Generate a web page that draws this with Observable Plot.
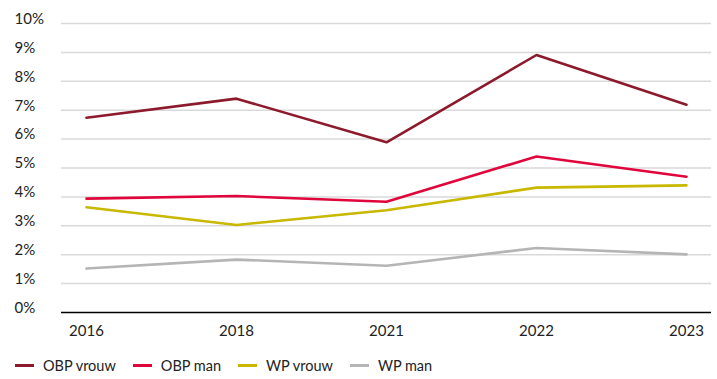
<!DOCTYPE html>
<html>
<head>
<meta charset="utf-8">
<script src="https://cdn.jsdelivr.net/npm/d3@7"></script>
<script src="https://cdn.jsdelivr.net/npm/@observablehq/plot@0.6"></script>
<style>
  html, body { margin: 0; padding: 0; background: #fff; }
  body { width: 717px; height: 379px; overflow: hidden; font-family: Lato, sans-serif; color: #222; }
  #legend { display: flex; align-items: center; margin-left: 15px; margin-top: 11px; font-size: 14.5px; }
  .item { display: flex; align-items: center; margin-right: 17px; }
  .sw { width: 19px; height: 3px; margin-right: 9px; }
</style>
</head>
<body>
<div id="chart"></div>
<div id="legend"></div>
<script>
const years = ["2016", "2018", "2021", "2022", "2023"];
const seriesNames = ["OBP vrouw", "OBP man", "WP vrouw", "WP man"];
const obpVrouw = [6.74, 7.40, 5.89, 8.91, 7.19];
const obpMan   = [3.94, 4.03, 3.83, 5.40, 4.70];
const wpVrouw  = [3.64, 3.03, 3.54, 4.32, 4.40];
const wpMan    = [1.52, 1.83, 1.62, 2.23, 2.01];
const colors = ["#8c1a2c", "#e0063b", "#c8b800", "#b5b5b5"];
const yTicks = [0, 1, 2, 3, 4, 5, 6, 7, 8, 9, 10];

const seriesValues = [obpVrouw, obpMan, wpVrouw, wpMan];
const data = [];
seriesNames.forEach((s, i) => years.forEach((y, j) => data.push({series: s, year: y, value: seriesValues[i][j]})));

const plot = Plot.plot({
  width: 717,
  height: 346,
  marginTop: 23,
  marginBottom: 34,
  marginLeft: 61,
  marginRight: 6,
  style: {fontFamily: "Lato, sans-serif", fontSize: "15px", color: "#222"},
  x: {type: "point", domain: years, padding: 0.163, label: null},
  y: {domain: [0, 10], label: null},
  color: {domain: seriesNames, range: colors},
  marks: [
    Plot.gridY(yTicks.filter(d => d > 0), {stroke: "#d9d9d9", strokeOpacity: 1, strokeWidth: 1.5}),
    Plot.ruleY([0], {stroke: "#000", strokeWidth: 1.5}),
    Plot.axisY(yTicks, {tickSize: 0, tickPadding: 0, textAnchor: "start", dx: -47, dy: -4.5, tickFormat: d => d + "%", label: null}),
    Plot.axisX({tickSize: 0, tickPadding: 13, label: null}),
    Plot.line(data, {x: "year", y: "value", z: "series", stroke: "series", strokeWidth: 2.6, strokeLinejoin: "miter"})
  ]
});
document.getElementById("chart").appendChild(plot);

const legend = document.getElementById("legend");
seriesNames.forEach((s, i) => {
  const it = document.createElement("div");
  it.className = "item";
  const sw = document.createElement("span");
  sw.className = "sw";
  sw.style.background = colors[i];
  const t = document.createElement("span");
  t.textContent = s;
  it.appendChild(sw); it.appendChild(t);
  legend.appendChild(it);
});
</script>
</body>
</html>
